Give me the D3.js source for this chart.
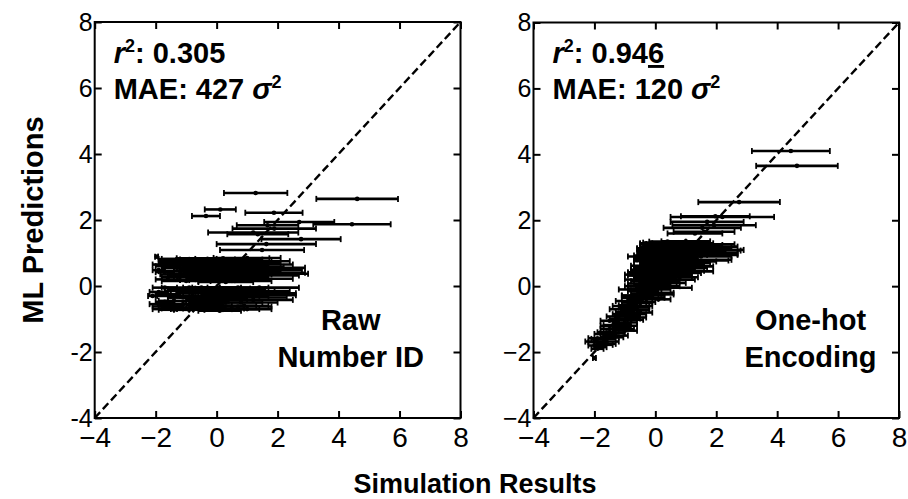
<!DOCTYPE html>
<html>
<head>
<meta charset="utf-8">
<script src="https://cdn.jsdelivr.net/npm/d3@7"></script>
<style>
  body { margin: 0; background: #fff; }
  svg { display: block; font-family: "Liberation Sans", Arial, Helvetica, sans-serif; }
</style>
</head>
<body>
<svg id="chart" width="908" height="499"></svg>
<script>
// axis ticks
const ticks = [-4, -2, 0, 2, 4, 6, 8];

// left panel: raw number ID  (simulation, prediction, half width of error bar)
const rawSim = [
  1.28, 4.61, 0.12, -0.35, 1.88, 2.71, 4.44, 1.67, 1.89, 1.20, 1.35, 2.77, 1.63, 1.49, -1.97, 0.21,
  -1.9, -1.7, -1.5, -1.3, -1.2, -1.1, -1.0, -0.9, -0.8, -0.7, -0.6, -0.5, -0.4, -0.3, -0.2, -0.1,
  0.0, 0.0, 0.1, 0.3, 0.3, 0.4, 0.5, 0.6, 0.7, 0.8, 0.9, 1.0, 1.2, 1.3, 1.5, 1.7, 1.4, -1.6, 0.2,
  -1.8, -1.4, -1.2, -0.9, -0.7, -0.5, -0.3, -0.1, 0.1, 0.3, 0.5, 0.6, 0.8, 1.0, 1.1, -1.6, -1.0,
  -0.2, -0.8, 0.0, 1.6, -1.3,
  -2.1, -1.9, -1.8, -1.7, -1.6, -1.4, -1.3, -1.2, -1.0, -0.9, -0.8, -0.7, -0.6, -0.5, -0.4, -0.3,
  -0.2, 0.0, 0.1, 0.2, 0.3, 0.4, 0.5, 0.6, 0.7, 0.8, 0.9, 1.0, 1.1, 1.2, 1.4, -1.5, -1.1, 0.0, -0.1,
  -1.9, -1.6, -1.3, -1.1, -0.9, -0.7, -0.5, -0.3, -0.1, 0.1, 0.3, 0.5, 0.7, 0.9, 1.3, -1.7,
  -0.4, 0.2, -1.4, 1.0
];
const rawPred = [
  2.82, 2.64, 2.32, 2.12, 2.22, 1.94, 1.87, 1.84, 1.74, 1.62, 1.57, 1.42, 1.27, 1.09, 0.89, 0.84,
  0.48, 0.42, 0.35, 0.55, 0.28, 0.70, 0.62, 0.38, 0.76, 0.18, 0.46, 0.68, 0.26, 0.80, 0.52, 0.62,
  0.78, 0.21, 0.40, 0.72, 0.12, 0.55, 0.28, 0.80, 0.62, 0.45, 0.70, 0.22, 0.65, 0.40, 0.55, 0.37, 0.75, 0.60, 0.50,
  0.65, 0.75, 0.45, 0.82, 0.55, 0.35, 0.65, 0.30, 0.68, 0.35, 0.75, 0.15, 0.58, 0.85, 0.32, 0.20, 0.15,
  0.18, 0.62, 0.55, 0.48, 0.82,
  -0.30, -0.55, -0.70, -0.48, -0.25, -0.45, -0.15, -0.65, -0.10, -0.72, -0.30, -0.20, -0.55, -0.05, -0.70, -0.45,
  -0.20, -0.40, -0.75, -0.60, -0.25, -0.10, -0.70, -0.30, -0.05, -0.50, -0.60, -0.15, -0.28, -0.42, -0.05, -0.60, -0.35, -0.05, -0.60,
  -0.18, -0.62, -0.30, -0.55, -0.05, -0.65, -0.35, -0.12, -0.68, -0.30, -0.50, -0.18, -0.62, -0.35, -0.22, -0.05,
  -0.58, -0.08, -0.72, -0.70
];
const rawErr = [
  1.04, 1.34, 0.51, 0.46, 0.94, 1.15, 1.27, 1.01, 1.37, 1.48, 1.00, 1.30, 1.63, 1.38, 0.05, 1.52,
  0.2, 0.3, 0.35, 0.5, 0.6, 0.8, 0.5, 0.6, 0.7, 0.5, 0.8, 0.6, 0.9, 0.9, 1.0, 0.7,
  1.1, 1.0, 1.2, 1.0, 0.9, 1.1, 1.2, 0.9, 1.0, 1.3, 1.2, 1.5, 1.3, 1.6, 1.4, 1.3, 1.0, 0.4, 0.6,
  0.3, 0.5, 0.7, 0.9, 1.0, 1.1, 1.2, 1.3, 1.4, 1.5, 1.3, 1.2, 1.4, 1.1, 1.6, 0.4, 0.8,
  0.7, 0.5, 0.9, 1.2, 0.6,
  0.15, 0.3, 0.3, 0.3, 0.4, 0.5, 0.4, 0.6, 0.6, 0.5, 0.7, 0.6, 0.8, 0.6, 0.9, 0.7,
  0.9, 1.0, 0.7, 1.1, 0.8, 1.2, 0.9, 1.1, 1.0, 1.2, 0.8, 1.4, 1.5, 1.3, 1.3, 0.4, 0.5, 0.8, 0.6,
  0.3, 0.5, 0.7, 0.8, 0.9, 1.0, 1.1, 1.2, 1.0, 1.3, 1.2, 1.4, 1.1, 1.4, 1.3, 0.4,
  0.6, 0.9, 0.5, 0.8
];

// right panel: one-hot encoding
const hotSim = [
  4.45, 4.65, 2.75, 1.97, 2.2, 1.93, 1.54, 1.6, 1.3, 1.7, -0.2,
  0.0, 0.3, 0.6, 0.9, 1.2, 1.5, 1.8, 0.2, 0.5, 0.8, 1.1, 1.4, -0.1, -0.3, 0.1, 1.7,
  -0.4, -0.3, 0.0, 0.3, 0.6, 0.9, 1.2, -0.4, -0.1, 0.2, 0.5, 0.8, 1.0, 1.3, -0.5,
  -0.7, -0.5, -0.3, 0.0, 0.2, 0.4, 0.6, -0.1, -0.6, 0.3, 0.7, -0.2,
  -0.8, -0.6, -0.4, -0.2, 0.0, -0.9, -0.5, 0.1, -0.3,
  -1.1, -0.9, -0.7, -0.5, -1.2, -0.8, -0.6,
  -1.4, -1.2, -1.5, -1.0, -1.6, -1.3, -1.1,
  -1.9, -1.7, -2.0, -1.6, -1.8, -1.5, -2.0,
  0.4, 1.0, -0.1, 0.7, 1.6, 0.2, 1.3, 0.0, 1.0, 1.9, 0.4, 1.2, -0.3, 0.7, 0.0, 1.5,
  0.5, -0.1, 1.0, -0.4, 0.2, 0.7, -0.3, 1.1, 0.0, 0.6, -0.2, 0.9, 0.1, -0.6, 0.5, -0.4,
  0.0, 0.8, -0.3, 0.4, -0.5, 0.1, 0.2, -0.2, -0.6, 0.0, -0.3, 0.2, -0.7, -0.1, -0.4, -0.8,
  -0.3, -0.7, -0.9, -0.5, -0.6, -1.0, -0.7, -1.1, -0.9, -1.3, -0.8, -1.1, -1.3, -0.9,
  -1.5, -1.0, -1.4, -1.7, -1.35, -1.9, -1.6, -2.0, -1.7, -1.9
];
const hotPred = [
  4.10, 3.65, 2.55, 2.12, 2.10, 1.85, 1.77, 1.65, 1.60, 1.95, 1.06,
  1.30, 1.32, 1.28, 1.30, 1.25, 1.20, 1.10, 1.15, 1.10, 1.18, 1.05, 1.00, 1.20, 1.08, 1.00, 0.95,
  0.85, 0.90, 0.80, 0.90, 0.75, 0.70, 0.78, 0.60, 0.55, 0.65, 0.50, 0.55, 0.45, 0.80, 0.50,
  0.35, 0.20, 0.40, 0.30, 0.15, 0.35, 0.20, 0.05, 0.00, -0.05, 0.40, 0.25,
  -0.10, -0.30, -0.15, -0.35, -0.20, -0.45, -0.50, -0.40, 0.00,
  -0.70, -0.90, -0.65, -0.80, -1.00, -0.60, -0.95,
  -1.20, -1.30, -1.05, -1.10, -1.40, -1.50, -1.25,
  -1.70, -1.60, -1.80, -1.75, -1.85, -1.55, -2.18,
  1.35, 1.36, 1.27, 1.22, 1.27, 1.22, 1.17, 1.12, 1.13, 1.08, 1.03, 0.98, 0.98, 0.95, 0.93, 0.90,
  0.85, 0.82, 0.75, 0.76, 0.70, 0.66, 0.62, 0.60, 0.58, 0.60, 0.46, 0.47, 0.43, 0.42, 0.30, 0.32,
  0.22, 0.27, 0.15, 0.10, 0.08, 0.10, 0.00, -0.05, -0.08, -0.10, -0.22, -0.25, -0.28, -0.28, -0.38, -0.35,
  -0.48, -0.50, -0.58, -0.60, -0.72, -0.78, -0.85, -0.85, -0.98, -0.92, -1.02, -1.15, -1.18, -1.20,
  -1.30, -1.35, -1.42, -1.45, -1.55, -1.58, -1.68, -1.68, -1.78, -1.90
];
const hotErr = [
  1.28, 1.34, 1.34, 1.13, 1.7, 1.37, 1.27, 1.0, 0.9, 1.2, 0.3,
  0.5, 0.7, 0.9, 1.0, 1.0, 1.2, 1.1, 0.8, 0.9, 1.1, 1.2, 1.3, 0.4, 0.25, 0.7, 1.0,
  0.3, 0.6, 0.7, 0.8, 0.8, 0.9, 1.2, 0.3, 0.6, 0.7, 0.8, 0.9, 0.9, 1.2, 0.3,
  0.3, 0.5, 0.6, 0.7, 0.6, 0.8, 0.7, 0.6, 0.4, 0.9, 0.8, 0.5,
  0.4, 0.5, 0.5, 0.5, 0.6, 0.4, 0.4, 0.4, 0.6,
  0.4, 0.4, 0.5, 0.4, 0.3, 0.6, 0.3,
  0.4, 0.5, 0.3, 0.4, 0.3, 0.4, 0.3,
  0.3, 0.4, 0.2, 0.3, 0.2, 0.3, 0.05,
  0.6, 0.8, 0.4, 1.1, 1.0, 0.5, 1.2, 0.6, 1.3, 0.9, 0.8, 1.5, 0.25, 1.0, 0.7, 1.0,
  0.9, 0.5, 1.0, 0.3, 0.7, 0.9, 0.5, 0.8, 0.7, 0.7, 0.6, 0.7, 0.7, 0.3, 0.7, 0.5,
  0.7, 0.6, 0.5, 0.6, 0.4, 0.6, 0.6, 0.4, 0.3, 0.5, 0.5, 0.4, 0.4, 0.4, 0.5, 0.3,
  0.3, 0.4, 0.3, 0.4, 0.4, 0.3, 0.4, 0.3, 0.4, 0.3, 0.4, 0.3, 0.4, 0.3,
  0.3, 0.4, 0.4, 0.3, 0.3, 0.3, 0.4, 0.3, 0.3, 0.2
];

const svg = d3.select('#chart');

function panel(box, sim, pred, err, yFmt, stats, label) {
  const x = d3.scaleLinear().domain([-4, 8]).range([box.x0, box.x1]);
  const y = d3.scaleLinear().domain([-4, 8]).range([box.y1, box.y0]);
  const g = svg.append('g');

  // ticks on all four sides, pointing inwards
  const bottom = g.append('g')
    .attr('transform', `translate(0,${box.y1})`)
    .call(d3.axisBottom(x).tickValues(ticks).tickSize(-7).tickFormat(d3.format('')));
  bottom.selectAll('text')
    .attr('y', 29).attr('dy', 0)
    .style('font-size', '28px');

  g.append('g')
    .attr('transform', `translate(0,${box.y0})`)
    .call(d3.axisTop(x).tickValues(ticks).tickSize(-7).tickFormat(''));

  const left = g.append('g')
    .attr('transform', `translate(${box.x0},0)`)
    .call(d3.axisLeft(y).tickValues(ticks).tickSize(-7).tickFormat(yFmt).tickPadding(2));
  left.selectAll('text').style('font-size', '25px');

  g.append('g')
    .attr('transform', `translate(${box.x1},0)`)
    .call(d3.axisRight(y).tickValues(ticks).tickSize(-7).tickFormat(''));

  g.selectAll('.domain').remove();
  g.selectAll('.tick line').attr('stroke', '#000').attr('stroke-width', 2);
  g.selectAll('.tick text').attr('fill', '#000');

  g.append('rect')
    .attr('x', box.x0).attr('y', box.y0)
    .attr('width', box.x1 - box.x0).attr('height', box.y1 - box.y0)
    .attr('fill', 'none').attr('stroke', '#000').attr('stroke-width', 2);

  // y = x reference
  g.append('line')
    .attr('x1', x(-4)).attr('y1', y(-4)).attr('x2', x(8)).attr('y2', y(8))
    .attr('stroke', '#000').attr('stroke-width', 2.4).attr('stroke-dasharray', '8,4');

  const pts = sim.map((s, i) => ({ s, p: pred[i], e: err[i] }));
  const bars = g.append('g').selectAll('g').data(pts).join('g');
  bars.append('line')
    .attr('x1', d => x(d.s - d.e)).attr('x2', d => x(d.s + d.e))
    .attr('y1', d => y(d.p)).attr('y2', d => y(d.p))
    .attr('stroke', '#000').attr('stroke-width', 2.6);
  bars.selectAll('line.cap').data(d => [[d.s - d.e, d.p], [d.s + d.e, d.p]]).join('line')
    .attr('class', 'cap')
    .attr('x1', d => x(d[0])).attr('x2', d => x(d[0]))
    .attr('y1', d => y(d[1]) - 3).attr('y2', d => y(d[1]) + 3)
    .attr('stroke', '#000').attr('stroke-width', 1.8);
  bars.append('circle')
    .attr('cx', d => x(d.s)).attr('cy', d => y(d.p)).attr('r', 2.3)
    .attr('fill', '#000');

  // stats text
  const t1 = g.append('text')
    .attr('x', box.x0 + 19).attr('y', 63)
    .style('font-size', '29px').style('font-weight', 'bold');
  t1.append('tspan').style('font-style', 'italic').text('r');
  t1.append('tspan').attr('dy', -11).style('font-size', '18px').text('2');
  t1.append('tspan').attr('dy', 11).text(': ' + stats.r2.slice(0, stats.under ? -1 : undefined));
  if (stats.under) {
    t1.append('tspan').style('text-decoration', 'underline').text(stats.r2.slice(-1));
  }

  const t2 = g.append('text')
    .attr('x', box.x0 + 19).attr('y', 99)
    .style('font-size', '29px').style('font-weight', 'bold');
  t2.append('tspan').text('MAE: ' + stats.mae + ' ');
  t2.append('tspan').style('font-style', 'italic').text('σ');
  t2.append('tspan').attr('dy', -11).style('font-size', '18px').text('2');

  g.append('text').selectAll('tspan').data(label).join('tspan')
    .attr('x', box.x0 + label.cx).attr('y', (d, i) => 330 + i * 37)
    .attr('text-anchor', 'middle')
    .style('font-size', '29px').style('font-weight', 'bold')
    .text(d => d);
}

const rawLabel = ['Raw', 'Number ID']; rawLabel.cx = 256;
const hotLabel = ['One-hot', 'Encoding']; hotLabel.cx = 277;

panel({ x0: 94.7, x1: 460.5, y0: 22, y1: 418 }, rawSim, rawPred, rawErr,
  d => String(d), { r2: '0.305', mae: '427', under: false }, rawLabel);
panel({ x0: 533.5, x1: 899, y0: 22.5, y1: 418 }, hotSim, hotPred, hotErr,
  d3.format(''), { r2: '0.946', mae: '120', under: true }, hotLabel);

svg.append('text')
  .attr('transform', 'translate(43,220) rotate(-90)')
  .attr('text-anchor', 'middle')
  .style('font-size', '29px').style('font-weight', 'bold')
  .text('ML Predictions');

svg.append('text')
  .attr('x', 475).attr('y', 493)
  .attr('text-anchor', 'middle')
  .style('font-size', '27px').style('font-weight', 'bold')
  .text('Simulation Results');
</script>
</body>
</html>
